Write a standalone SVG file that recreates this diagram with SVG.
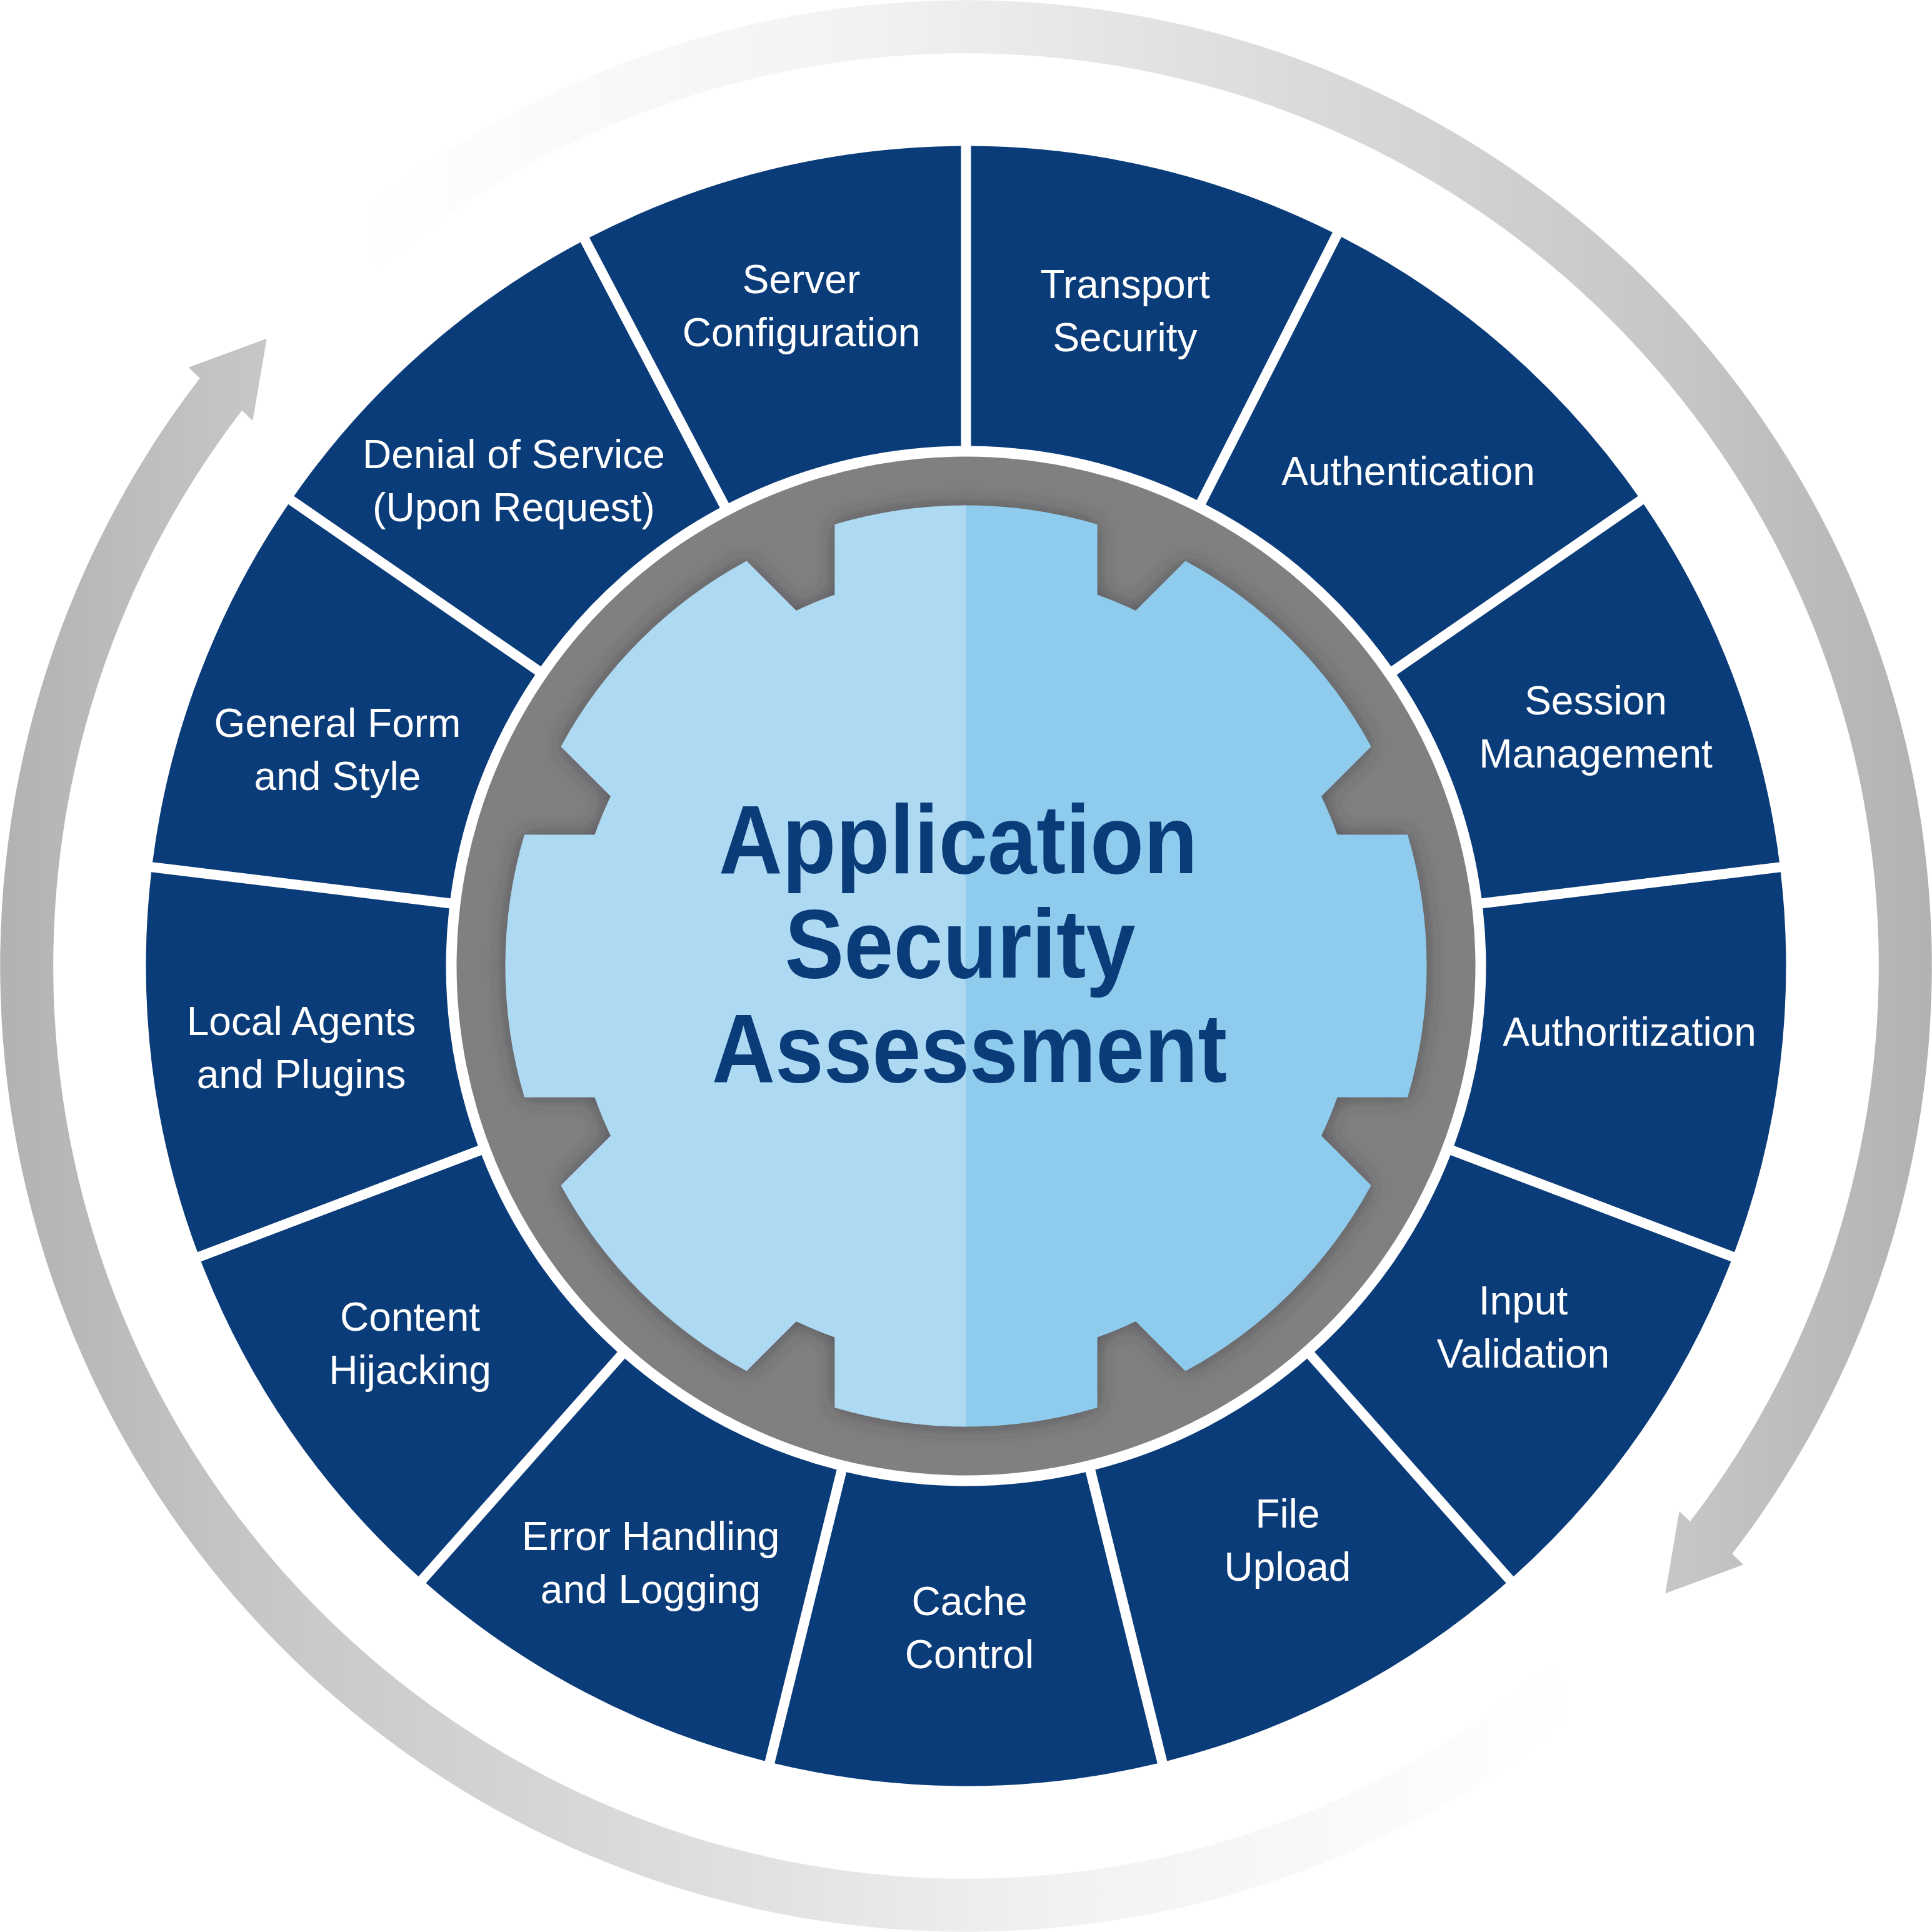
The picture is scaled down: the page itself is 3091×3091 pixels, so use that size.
<svg xmlns="http://www.w3.org/2000/svg" xmlns:xlink="http://www.w3.org/1999/xlink" width="3091" height="3091" viewBox="0 0 3091 3091">
<style>
.seg{fill:#0B3C7A}
.lbl{font-family:'Liberation Sans',Arial,sans-serif;font-size:64px;fill:#FFFFFF;text-anchor:middle}
.title{font-family:'Liberation Sans',Arial,sans-serif;font-weight:bold;font-size:156px;fill:#0B3C7A;text-anchor:middle}
.arrow{fill:url(#arrowGrad)}
</style>
<defs>
<linearGradient id="arrowGrad" gradientUnits="userSpaceOnUse" x1="2500" y1="0" x2="0" y2="0">
<stop offset="0" stop-color="#FFFFFF"/>
<stop offset="0.32" stop-color="#F2F2F2"/>
<stop offset="0.6" stop-color="#DADADA"/>
<stop offset="0.84" stop-color="#C6C6C6"/>
<stop offset="1" stop-color="#B2B2B2"/>
</linearGradient>
<linearGradient id="gearGrad" gradientUnits="userSpaceOnUse" x1="0" y1="0" x2="3091" y2="0">
<stop offset="0.5" stop-color="#ADD9F2"/>
<stop offset="0.5" stop-color="#8ECBEC"/>
</linearGradient>
<filter id="gearShadow" x="-10%" y="-10%" width="120%" height="120%">
<feDropShadow dx="0" dy="0" stdDeviation="16" flood-color="#30303a" flood-opacity="0.55"/>
</filter>
<path id="seg" d="M1553.5,713.54 L1553.5,233.52 A1312,1312 0 0 1 2148.12,380.08 L1925.05,805.12 A832,832 0 0 0 1553.5,713.54 Z"/>
<path id="arrowShape" d="M2538.6,2729.0 A1545,1545 0 0 1 319.7,604.9 L301.7,587.7 L426.7,541.7 L404.3,673.3 L387.1,656.7 A1460,1460 0 0 0 2484.0,2663.9 Z"/>
</defs>
<rect width="3091" height="3091" fill="#FFFFFF"/>
<g id="connectors">
<use xlink:href="#arrowShape" href="#arrowShape" class="arrow"/>
<use xlink:href="#arrowShape" href="#arrowShape" class="arrow" transform="rotate(180 1545.5 1545.5)"/>
</g>
<g id="transport-security"><path class="seg" d="M1553.5,713.54 L1553.5,233.52 A1312,1312 0 0 1 2131.96,371.86 L1914.78,799.94 A832,832 0 0 0 1553.5,713.54 Z"/><text class="lbl" x="1800" y="477">Transport</text><text class="lbl" x="1800" y="562">Security</text></g>
<g id="authentication"><path class="seg" d="M1929.04,807.18 L2146.22,379.10 A1312,1312 0 0 1 2620.69,793.63 L2225.65,1066.31 A832,832 0 0 0 1929.04,807.18 Z"/><text class="lbl" x="2253" y="776">Authentication</text></g>
<g id="session-management"><use href="#seg" class="seg" transform="rotate(55.3846 1545.5 1545.5)"/><text class="lbl" x="2553" y="1143">Session</text><text class="lbl" x="2553" y="1228">Management</text></g>
<g id="authoritization"><use href="#seg" class="seg" transform="rotate(83.0769 1545.5 1545.5)"/><text class="lbl" x="2607" y="1673">Authoritization</text></g>
<g id="input-validation"><use href="#seg" class="seg" transform="rotate(110.7692 1545.5 1545.5)"/><text class="lbl" x="2437" y="2103">Input</text><text class="lbl" x="2437" y="2188">Validation</text></g>
<g id="file-upload"><use href="#seg" class="seg" transform="rotate(138.4615 1545.5 1545.5)"/><text class="lbl" x="2060" y="2444">File</text><text class="lbl" x="2060" y="2529">Upload</text></g>
<g id="cache-control"><use href="#seg" class="seg" transform="rotate(166.1538 1545.5 1545.5)"/><text class="lbl" x="1551" y="2584">Cache</text><text class="lbl" x="1551" y="2669">Control</text></g>
<g id="error-handling"><use href="#seg" class="seg" transform="rotate(193.8462 1545.5 1545.5)"/><text class="lbl" x="1041" y="2480">Error Handling</text><text class="lbl" x="1041" y="2565">and Logging</text></g>
<g id="content-hijacking"><use href="#seg" class="seg" transform="rotate(221.5385 1545.5 1545.5)"/><text class="lbl" x="656" y="2129">Content</text><text class="lbl" x="656" y="2214">Hijacking</text></g>
<g id="local-agents"><use href="#seg" class="seg" transform="rotate(249.2308 1545.5 1545.5)"/><text class="lbl" x="482" y="1656">Local Agents</text><text class="lbl" x="482" y="1741">and Plugins</text></g>
<g id="general-form"><use href="#seg" class="seg" transform="rotate(276.9231 1545.5 1545.5)"/><text class="lbl" x="540" y="1179">General Form</text><text class="lbl" x="540" y="1264">and Style</text></g>
<g id="denial-of-service"><use href="#seg" class="seg" transform="rotate(304.6154 1545.5 1545.5)"/><text class="lbl" x="822" y="749">Denial of Service</text><text class="lbl" x="822" y="834">(Upon Request)</text></g>
<g id="server-configuration"><use href="#seg" class="seg" transform="rotate(332.3077 1545.5 1545.5)"/><text class="lbl" x="1282" y="469">Server</text><text class="lbl" x="1282" y="554">Configuration</text></g>
<g id="center">
<circle cx="1545.5" cy="1545.5" r="815" fill="#808080"/>
<path filter="url(#gearShadow)" fill="url(#gearGrad)" d="M1335.5,839.05 A737,737 0 0 1 1755.5,839.05 L1755.5,951.53 A630,630 0 0 1 1817.01,977.01 L1896.54,897.48 A737,737 0 0 1 2193.52,1194.46 L2113.99,1273.99 A630,630 0 0 1 2139.47,1335.5 L2251.95,1335.5 A737,737 0 0 1 2251.95,1755.5 L2139.47,1755.5 A630,630 0 0 1 2113.99,1817.01 L2193.52,1896.54 A737,737 0 0 1 1896.54,2193.52 L1817.01,2113.99 A630,630 0 0 1 1755.5,2139.47 L1755.5,2251.95 A737,737 0 0 1 1335.5,2251.95 L1335.5,2139.47 A630,630 0 0 1 1273.99,2113.99 L1194.46,2193.52 A737,737 0 0 1 897.48,1896.54 L977.01,1817.01 A630,630 0 0 1 951.53,1755.5 L839.05,1755.5 A737,737 0 0 1 839.05,1335.5 L951.53,1335.5 A630,630 0 0 1 977.01,1273.99 L897.48,1194.46 A737,737 0 0 1 1194.46,897.48 L1273.99,977.01 A630,630 0 0 1 1335.5,951.53 Z"/>
<text class="title" x="1533" y="1397" textLength="766" lengthAdjust="spacingAndGlyphs">Application</text>
<text class="title" x="1536" y="1564" textLength="561" lengthAdjust="spacingAndGlyphs">Security</text>
<text class="title" x="1551" y="1731" textLength="824" lengthAdjust="spacingAndGlyphs">Assessment</text>
</g>
</svg>
